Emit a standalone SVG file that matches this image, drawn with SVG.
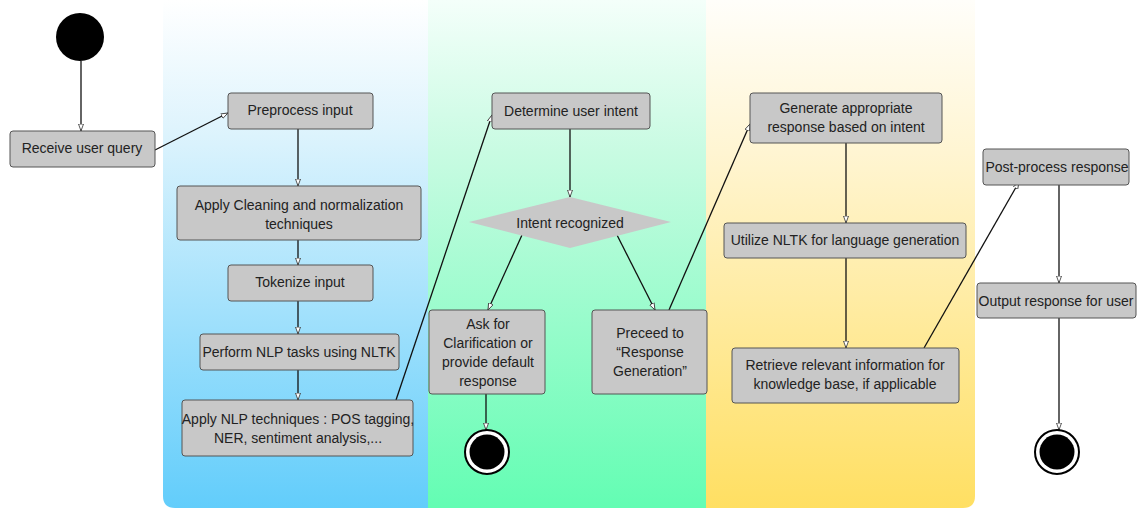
<svg xmlns="http://www.w3.org/2000/svg" width="1139" height="508" viewBox="0 0 1139 508">
<defs>
<linearGradient id="gBlue" x1="0" y1="0" x2="0" y2="1">
<stop offset="0" stop-color="#ffffff"/>
<stop offset="0.25" stop-color="#dff4fd"/>
<stop offset="1" stop-color="#62cdfb"/>
</linearGradient>
<linearGradient id="gGreen" x1="0" y1="0" x2="0" y2="1">
<stop offset="0" stop-color="#f4fffa"/>
<stop offset="0.3" stop-color="#c8fbe2"/>
<stop offset="1" stop-color="#63fdb3"/>
</linearGradient>
<linearGradient id="gYellow" x1="0" y1="0" x2="0" y2="1">
<stop offset="0" stop-color="#fffefa"/>
<stop offset="0.3" stop-color="#fff5d2"/>
<stop offset="1" stop-color="#ffdf62"/>
</linearGradient>
<marker id="arr" markerWidth="8" markerHeight="6" refX="7" refY="3" orient="auto" markerUnits="userSpaceOnUse">
<path d="M0,0.5 L7,3 L0,5.5 Z" fill="#ffffff" stroke="#333" stroke-width="0.8"/>
</marker>
</defs>
<style>
.box{fill:#c8c8c8;stroke:#555;stroke-width:1}
.t{font-family:"Liberation Sans",Arial,sans-serif;font-size:14px;fill:#222;text-anchor:middle}
.c{fill:none;stroke:#111;stroke-width:1.3;marker-end:url(#arr)}
</style>
<rect width="1139" height="508" fill="#ffffff"/>
<g id="lanes">
<path d="M163,0 H428 V508 H175 Q163,508 163,496 Z" fill="url(#gBlue)"/>
<rect x="428" y="0" width="278" height="508" fill="url(#gGreen)"/>
<path d="M706,0 H975 V496 Q975,508 963,508 H706 Z" fill="url(#gYellow)"/>
</g>
<g id="connectors">
<line class="c" x1="81" y1="61" x2="81" y2="131"/>
<line class="c" x1="155" y1="150" x2="228" y2="113"/>
<line class="c" x1="298" y1="129" x2="298" y2="186"/>
<line class="c" x1="298" y1="240" x2="298" y2="265"/>
<line class="c" x1="298" y1="301" x2="298" y2="334"/>
<line class="c" x1="298" y1="370" x2="298" y2="400"/>
<line class="c" x1="396" y1="400" x2="492" y2="115"/>
<line class="c" x1="570" y1="129" x2="570" y2="197"/>
<line class="c" x1="522" y1="235" x2="488" y2="310"/>
<line class="c" x1="617" y1="235" x2="655" y2="310"/>
<line class="c" x1="486" y1="394" x2="486" y2="430"/>
<line class="c" x1="669" y1="310" x2="750" y2="124"/>
<line class="c" x1="846" y1="143" x2="846" y2="223"/>
<line class="c" x1="846" y1="258" x2="846" y2="348"/>
<line class="c" x1="924" y1="348" x2="1019" y2="182"/>
<line class="c" x1="1059" y1="185" x2="1059" y2="283"/>
<line class="c" x1="1059" y1="318" x2="1059" y2="430"/>
</g>
<g id="start"><circle cx="80" cy="37" r="24" fill="#000"/></g>
<g id="receive"><rect class="box" x="10" y="131" width="145" height="36" rx="3"/><text class="t" x="82" y="153">Receive user query</text></g>
<g id="preprocess"><rect class="box" x="228" y="93" width="145" height="36" rx="3"/><text class="t" x="300" y="115">Preprocess input</text></g>
<g id="cleaning"><rect class="box" x="177" y="186" width="244" height="54" rx="3"/><text class="t" x="299" y="210">Apply Cleaning and normalization</text><text class="t" x="299" y="229">techniques</text></g>
<g id="tokenize"><rect class="box" x="228" y="265" width="145" height="36" rx="3"/><text class="t" x="300" y="287">Tokenize input</text></g>
<g id="perform"><rect class="box" x="200" y="334" width="199" height="36" rx="3"/><text class="t" x="299" y="357">Perform NLP tasks using NLTK</text></g>
<g id="applynlp"><rect class="box" x="182" y="400" width="231" height="56" rx="3"/><text class="t" x="298" y="424">Apply NLP techniques : POS tagging,</text><text class="t" x="298" y="443">NER, sentiment analysis,...</text></g>
<g id="determine"><rect class="box" x="492" y="93" width="158" height="36" rx="3"/><text class="t" x="571" y="116">Determine user intent</text></g>
<g id="decision"><polygon points="570,197 671,222 570,248 469,222" fill="#c8c8c8"/><text class="t" x="570" y="228">Intent recognized</text></g>
<g id="askfor"><rect class="box" x="429" y="310" width="116" height="84" rx="3"/><text class="t" x="488" y="329">Ask for</text><text class="t" x="488" y="348">Clarification or</text><text class="t" x="488" y="367">provide default</text><text class="t" x="488" y="386">response</text></g>
<g id="end1"><circle cx="487" cy="452" r="22" fill="#fff" stroke="#000" stroke-width="2"/><circle cx="487" cy="452" r="17.5" fill="#000"/></g>
<g id="preceed"><rect class="box" x="592" y="310" width="115" height="84" rx="3"/><text class="t" x="650" y="338">Preceed to</text><text class="t" x="650" y="357">“Response</text><text class="t" x="650" y="376">Generation”</text></g>
<g id="generate"><rect class="box" x="750" y="93" width="192" height="50" rx="3"/><text class="t" x="846" y="113">Generate appropriate</text><text class="t" x="846" y="132">response based on intent</text></g>
<g id="utilize"><rect class="box" x="724" y="223" width="242" height="35" rx="3"/><text class="t" x="845" y="245">Utilize NLTK for language generation</text></g>
<g id="retrieve"><rect class="box" x="732" y="348" width="227" height="55" rx="3"/><text class="t" x="845" y="370">Retrieve relevant information for</text><text class="t" x="845" y="389">knowledge base, if applicable</text></g>
<g id="postprocess"><rect class="box" x="983" y="149" width="146" height="36" rx="3"/><text class="t" x="1057" y="172">Post-process response</text></g>
<g id="output"><rect class="box" x="977" y="283" width="159" height="35" rx="3"/><text class="t" x="1056" y="306">Output response for user</text></g>
<g id="end2"><circle cx="1057" cy="452" r="22" fill="#fff" stroke="#000" stroke-width="2"/><circle cx="1057" cy="452" r="17.5" fill="#000"/></g>
</svg>
